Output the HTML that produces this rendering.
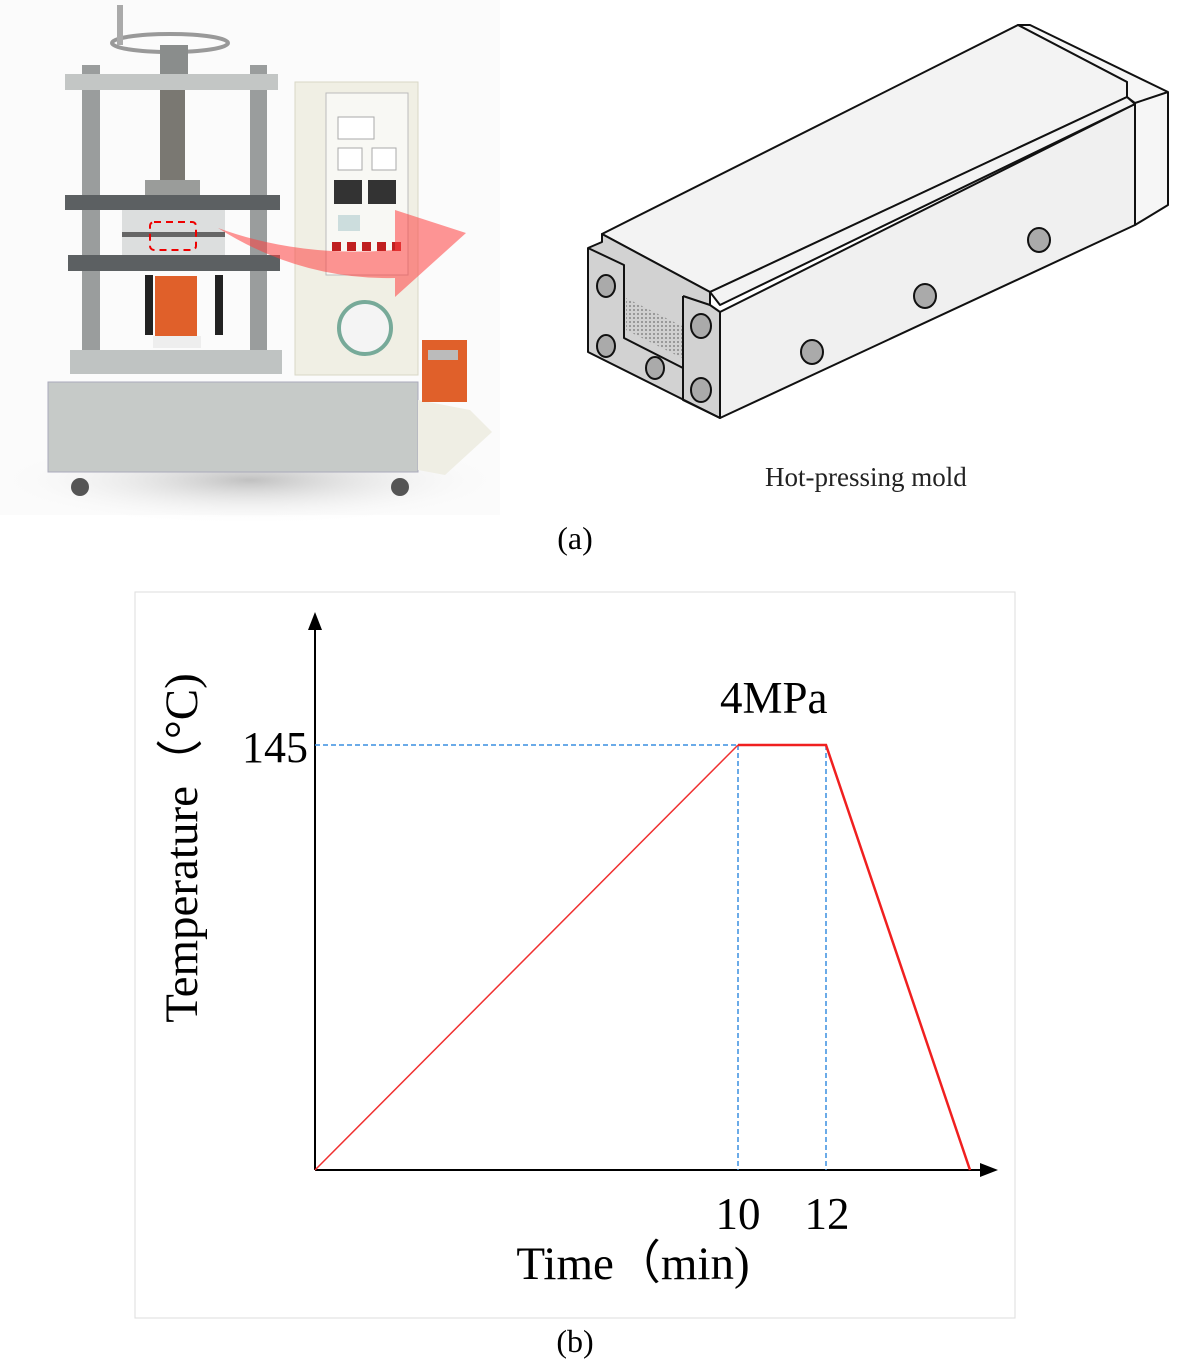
<!DOCTYPE html>
<html><head><meta charset="utf-8"><style>
html,body{margin:0;padding:0;background:#fff;}
svg{display:block;}
text{font-family:"Liberation Serif",serif;}
</style></head><body>
<svg width="1202" height="1360" viewBox="0 0 1202 1360" xmlns="http://www.w3.org/2000/svg">
<defs>
<pattern id="hatch" width="4" height="4" patternUnits="userSpaceOnUse"><rect width="4" height="4" fill="#d0d0d0"/><circle cx="2" cy="2" r="1" fill="#888"/></pattern>
<radialGradient id="shadow" cx="0.5" cy="0.5" r="0.5"><stop offset="0" stop-color="#999" stop-opacity="0.6"/><stop offset="1" stop-color="#fff" stop-opacity="0"/></radialGradient>
</defs>
<rect x="0" y="0" width="500" height="515" fill="#fbfbfb"/>
<ellipse cx="250" cy="480" rx="260" ry="45" fill="url(#shadow)"/>
<!-- press base -->
<rect x="48" y="382" width="370" height="90" fill="#c6cac8" stroke="#aab" stroke-width="1"/>
<rect x="70" y="350" width="212" height="24" fill="#bfc3c2"/>
<!-- columns -->
<rect x="82" y="65" width="18" height="285" fill="#9a9d9d"/>
<rect x="250" y="65" width="17" height="285" fill="#9a9d9d"/>
<!-- handwheel -->
<ellipse cx="170" cy="43" rx="58" ry="9" fill="none" stroke="#999" stroke-width="4"/>
<rect x="117" y="5" width="6" height="40" fill="#aaa"/>
<rect x="160" y="45" width="28" height="30" fill="#8a8d8c"/>
<rect x="65" y="74" width="213" height="16" fill="#c3c6c5"/>
<rect x="160" y="90" width="25" height="100" fill="#7a7872"/>
<rect x="145" y="180" width="55" height="15" fill="#9a9c9a"/>
<rect x="65" y="195" width="215" height="15" fill="#5c6062"/>
<rect x="122" y="210" width="103" height="48" fill="#dcdede"/>
<rect x="122" y="232" width="103" height="5" fill="#666"/>
<rect x="68" y="255" width="212" height="16" fill="#5c6062"/>
<rect x="155" y="276" width="42" height="64" fill="#e0602a"/>
<rect x="153" y="336" width="48" height="12" fill="#eee"/>
<rect x="145" y="275" width="8" height="60" fill="#222"/>
<rect x="215" y="275" width="8" height="60" fill="#222"/>
<rect x="150" y="222" width="46" height="28" rx="4" fill="none" stroke="#e00" stroke-width="2" stroke-dasharray="7,5"/>
<!-- cabinet -->
<rect x="295" y="82" width="123" height="293" fill="#f0efe4" stroke="#d8d7c6"/>
<rect x="326" y="93" width="82" height="182" fill="#f8f8f4" stroke="#bbb"/>
<rect x="338" y="117" width="36" height="22" fill="#fff" stroke="#aaa"/>
<rect x="338" y="148" width="24" height="22" fill="#fff" stroke="#aaa"/>
<rect x="372" y="148" width="24" height="22" fill="#fff" stroke="#aaa"/>
<rect x="334" y="180" width="28" height="24" fill="#333"/>
<rect x="368" y="180" width="28" height="24" fill="#333"/>
<rect x="338" y="215" width="22" height="16" fill="#cdd"/>
<g fill="#c02020"><rect x="332" y="242" width="9" height="9"/><rect x="347" y="242" width="9" height="9"/><rect x="362" y="242" width="9" height="9"/><rect x="377" y="242" width="9" height="9"/><rect x="392" y="242" width="9" height="9"/></g>
<circle cx="365" cy="328" r="26" fill="#f4f4f4" stroke="#7a9" stroke-width="4"/>
<!-- pump -->
<polygon points="418,400 470,410 492,432 445,475 418,470" fill="#efeee4"/>
<rect x="422" y="340" width="45" height="62" fill="#e0602a"/>
<rect x="428" y="350" width="30" height="10" fill="#bbb"/>
<circle cx="80" cy="487" r="9" fill="#555"/><circle cx="400" cy="487" r="9" fill="#555"/>
<!-- red arrow -->
<path d="M218,228 Q300,280 395,278 L395,297 L466,233 L395,210 L395,250 Q300,258 218,228 Z" fill="#ff4040" fill-opacity="0.55"/>

<!-- mold -->
<g stroke="#111" stroke-width="2" stroke-linejoin="round">
<polygon points="1030,25 1168,92 1168,205 1135,225 1135,103 1127,97 1127,82 1018,25" fill="#f6f6f6"/>
<line x1="1135" y1="103" x2="1168" y2="92" />
<polygon points="720,312 1135,104 1135,225 720,418" fill="#f0f0f0"/>
<polygon points="602,234 1018,25 1127,82 1127,97 710,292" fill="#f3f3f3"/>
<polygon points="710,292 1127,97 1135,104 720,305" fill="#f3f3f3"/>
<polygon points="588,248 602,242 602,234 710,292 710,305 720,312 720,418 588,352" fill="#d2d2d2"/>
<polyline points="588,248 624,265 624,338 683,368" fill="none"/>
<polyline points="683,296 683,400 720,418" fill="none"/>
<polyline points="683,296 710,305" fill="none"/>
</g>
<polygon points="626,298 682,326 682,358 626,330" fill="url(#hatch)"/>
<g fill="#aaa" stroke="#111" stroke-width="2">
<ellipse cx="606" cy="286" rx="9" ry="11"/><ellipse cx="606" cy="346" rx="9" ry="11"/><ellipse cx="655" cy="368" rx="9" ry="11"/><ellipse cx="701" cy="326" rx="10" ry="12"/><ellipse cx="701" cy="390" rx="10" ry="12"/>
<ellipse cx="812" cy="352" rx="11" ry="12"/><ellipse cx="925" cy="296" rx="11" ry="12"/><ellipse cx="1039" cy="240" rx="11" ry="12"/>
</g>
<text x="765" y="486" font-size="27" fill="#222">Hot-pressing mold</text>
<text x="575" y="549" font-size="32" text-anchor="middle" fill="#000">(a)</text>

<!-- chart -->
<rect x="135" y="592" width="880" height="726" fill="#fff" stroke="#ddd" stroke-width="1"/>
<line x1="315" y1="1170" x2="315" y2="628" stroke="#000" stroke-width="2"/>
<polygon points="315,612 308,630 322,630" fill="#000"/>
<line x1="315" y1="1170" x2="982" y2="1170" stroke="#000" stroke-width="2"/>
<polygon points="998,1170 980,1163 980,1177" fill="#000"/>
<g stroke="#3a8fe0" stroke-width="1.5" stroke-dasharray="5,3" fill="none">
<line x1="315" y1="745" x2="738" y2="745"/>
<line x1="738" y1="745" x2="738" y2="1170"/>
<line x1="826" y1="745" x2="826" y2="1170"/>
</g>
<polyline points="315,1170 738,745" stroke="#f03030" stroke-width="1.5" fill="none"/>
<polyline points="738,745 826,745 970,1170" stroke="#f02020" stroke-width="2.5" fill="none"/>
<text x="720" y="713" font-size="45" fill="#000">4MPa</text>
<text x="308" y="762" font-size="44" text-anchor="end" fill="#000">145</text>
<text x="738" y="1229" font-size="45" text-anchor="middle" fill="#000">10</text>
<text x="827" y="1229" font-size="45" text-anchor="middle" fill="#000">12</text>
<text x="633" y="1279" font-size="47" text-anchor="middle" fill="#000">Time（min)</text>
<text transform="translate(197,848) rotate(-90)" font-size="47" text-anchor="middle" fill="#000">Temperature（°C)</text>
<text x="575" y="1352" font-size="32" text-anchor="middle" fill="#000">(b)</text>
</svg>
</body></html>
